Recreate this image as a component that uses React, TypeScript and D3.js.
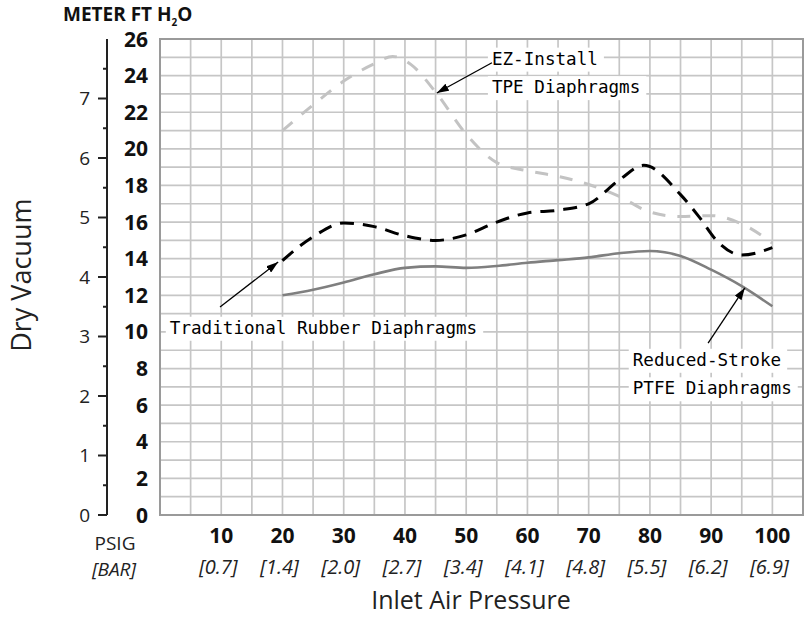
import React from 'react';
import * as d3 from 'd3';

// axis ticks
const psigTicks = [10, 20, 30, 40, 50, 60, 70, 80, 90, 100];
const barLabels = ['[0.7]', '[1.4]', '[2.0]', '[2.7]', '[3.4]', '[4.1]', '[4.8]', '[5.5]', '[6.2]', '[6.9]'];
const ftTicks = [0, 2, 4, 6, 8, 10, 12, 14, 16, 18, 20, 22, 24, 26];
const meterTicks = [0, 1, 2, 3, 4, 5, 6, 7];

// EZ-Install TPE Diaphragms (light grey dashed)
const tpePsig = [20, 25, 30, 35, 38, 41, 45, 50, 55, 60, 65, 70, 75, 80, 85, 90, 95, 100];
const tpeFt = [21.0, 22.4, 23.7, 24.65, 25.05, 24.6, 23.1, 20.8, 19.25, 18.8, 18.5, 18.05, 17.4, 16.55, 16.3, 16.35, 15.9, 14.85];

// Traditional Rubber Diaphragms (black dashed)
const rubberPsig = [20, 25, 30, 35, 40, 45, 50, 55, 60, 65, 70, 75, 79, 85, 88, 91, 95, 100];
const rubberFt = [13.9, 15.2, 15.95, 15.75, 15.25, 15.0, 15.3, 16.0, 16.5, 16.65, 17.0, 18.3, 19.1, 17.5, 16.3, 14.95, 14.2, 14.6];

// Reduced-Stroke PTFE Diaphragms (solid grey)
const ptfePsig = [20, 25, 30, 35, 40, 45, 50, 55, 60, 65, 70, 75, 80, 85, 90, 95, 100];
const ptfeFt = [12.0, 12.3, 12.7, 13.15, 13.5, 13.58, 13.5, 13.6, 13.78, 13.92, 14.07, 14.3, 14.42, 14.15, 13.4, 12.5, 11.4];

// annotations, in data units [psig, ft]
const annotations = [
  { lines: ['EZ-Install', 'TPE Diaphragms'], at: [54.2, 24.6], from: [54.2, 24.7], to: [45.2, 23.05] },
  { lines: ['Traditional Rubber Diaphragms'], at: [1.6, 9.9], from: [9.8, 11.36], to: [19.3, 13.82] },
  { lines: ['Reduced-Stroke', 'PTFE Diaphragms'], at: [77.2, 8.15], from: [89.5, 9.39], to: [95.5, 12.4] },
];

const W = 810;
const H = 617;
const FT_PER_M = 3.25;

const App: React.FC = () => {
  const x = d3.scaleLinear().domain([0, 105]).range([160, 803]);
  const y = d3.scaleLinear().domain([0, 26]).range([515, 39]);
  const m = d3.scaleLinear().domain([0, 26 / FT_PER_M]).range([515, 39]);

  const line = (xs: number[], ys: number[]) =>
    d3.line<number>()
      .x((_, i) => x(xs[i]))
      .y(d => y(d))
      .curve(d3.curveMonotoneX)(ys) as string;

  const vGrid = d3.range(0, 106, 5);
  const hGrid = d3.range(0, 27, 1);
  const meterMinor = d3.range(0.5, 8, 1);

  const sans = "'Open Sans', 'Noto Sans', sans-serif";
  const mono = "'DejaVu Sans Mono', monospace";
  const charW = 10.6;
  const lineGap = 28.5;

  return (
    <svg width={W} height={H} style={{ position: 'absolute', left: 0, top: 0, background: '#fff' }}>
      <defs>
        <marker id="ah" viewBox="0 0 12 8" refX="12" refY="4" markerWidth="12" markerHeight="8"
          markerUnits="userSpaceOnUse" orient="auto">
          <path d="M0,0 L12,4 L0,8 z" fill="#000" />
        </marker>
      </defs>

      {/* grid */}
      <g stroke="#c6c6c6" strokeWidth={1.7}>
        {vGrid.map(v => <line key={'v' + v} x1={x(v)} x2={x(v)} y1={y(0)} y2={y(26)} />)}
        {hGrid.map(v => <line key={'h' + v} x1={x(0)} x2={x(105)} y1={y(v)} y2={y(v)} />)}
      </g>
      <rect x={x(0)} y={y(26)} width={x(105) - x(0)} height={y(0) - y(26)} fill="none" stroke="#9a9a9a" strokeWidth={2} />

      {/* series */}
      <path d={line(tpePsig, tpeFt)} fill="none" stroke="#c3c3c3" strokeWidth={3} strokeDasharray="13,12" />
      <path d={line(rubberPsig, rubberFt)} fill="none" stroke="#000" strokeWidth={3} strokeDasharray="14,9" />
      <path d={line(ptfePsig, ptfeFt)} fill="none" stroke="#7f7f7f" strokeWidth={2.6} />

      {/* annotations */}
      {annotations.map((a, i) => {
        const tx = x(a.at[0]);
        const ty = y(a.at[1]);
        return (
          <g key={'a' + i}>
            {a.lines.map((l, j) => (
              <rect key={'r' + j} x={tx - 4} y={ty + j * lineGap - 17} width={l.length * charW + 10} height={24} fill="#fff" />
            ))}
            {a.lines.map((l, j) => (
              <text key={'t' + j} x={tx} y={ty + j * lineGap} fontFamily={mono} fontSize={17.6}
                textLength={l.length * charW} lengthAdjust="spacing" fill="#000">{l}</text>
            ))}
            <line x1={x(a.from[0])} y1={y(a.from[1])} x2={x(a.to[0])} y2={y(a.to[1])}
              stroke="#000" strokeWidth={1.3} markerEnd="url(#ah)" />
          </g>
        );
      })}

      {/* ft axis labels */}
      {ftTicks.map(t => (
        <text key={'ft' + t} x={148} y={y(t)} dy="0.36em" textAnchor="end" fontFamily={sans}
          fontWeight={700} fontSize={21} fill="#111">{t}</text>
      ))}

      {/* meter axis */}
      <line x1={107} x2={107} y1={m(26 / FT_PER_M)} y2={m(0)} stroke="#222" strokeWidth={2} />
      {meterTicks.map(t => (
        <g key={'m' + t}>
          <line x1={98} x2={107} y1={m(t)} y2={m(t)} stroke="#222" strokeWidth={2} />
          <text x={90} y={m(t)} dy="0.36em" textAnchor="end" fontFamily={sans} fontSize={19} fill="#222">{t}</text>
        </g>
      ))}
      {meterMinor.map(t => (
        <line key={'mm' + t} x1={103} x2={107} y1={m(t)} y2={m(t)} stroke="#222" strokeWidth={2} />
      ))}

      <text x={63} y={21} fontFamily={sans} fontWeight={700} fontSize={19} fill="#111">
        METER FT H<tspan fontSize={10} dy={5}>2</tspan><tspan dy={-5}>O</tspan>
      </text>

      <text transform={`translate(31,${y(13.1)}) rotate(-90)`} textAnchor="middle" fontFamily={sans}
        fontSize={27} fill="#222">Dry Vacuum</text>

      {/* x axis labels */}
      {psigTicks.map((t, i) => (
        <g key={'x' + t}>
          <text x={x(t)} y={543} textAnchor="middle" fontFamily={sans} fontWeight={700} fontSize={21} fill="#111">{t}</text>
          <text x={x(t) - 3} y={574} textAnchor="middle" fontFamily={sans} fontStyle="italic" fontSize={20} fill="#222">{barLabels[i]}</text>
        </g>
      ))}
      <text x={115} y={550} textAnchor="middle" fontFamily={sans} fontSize={19} fill="#222">PSIG</text>
      <text x={114} y={576} textAnchor="middle" fontFamily={sans} fontStyle="italic" fontSize={19} fill="#222">[BAR]</text>

      <text x={471} y={609} textAnchor="middle" fontFamily={sans} fontSize={25} fill="#222">Inlet Air Pressure</text>
    </svg>
  );
};

export default App;
